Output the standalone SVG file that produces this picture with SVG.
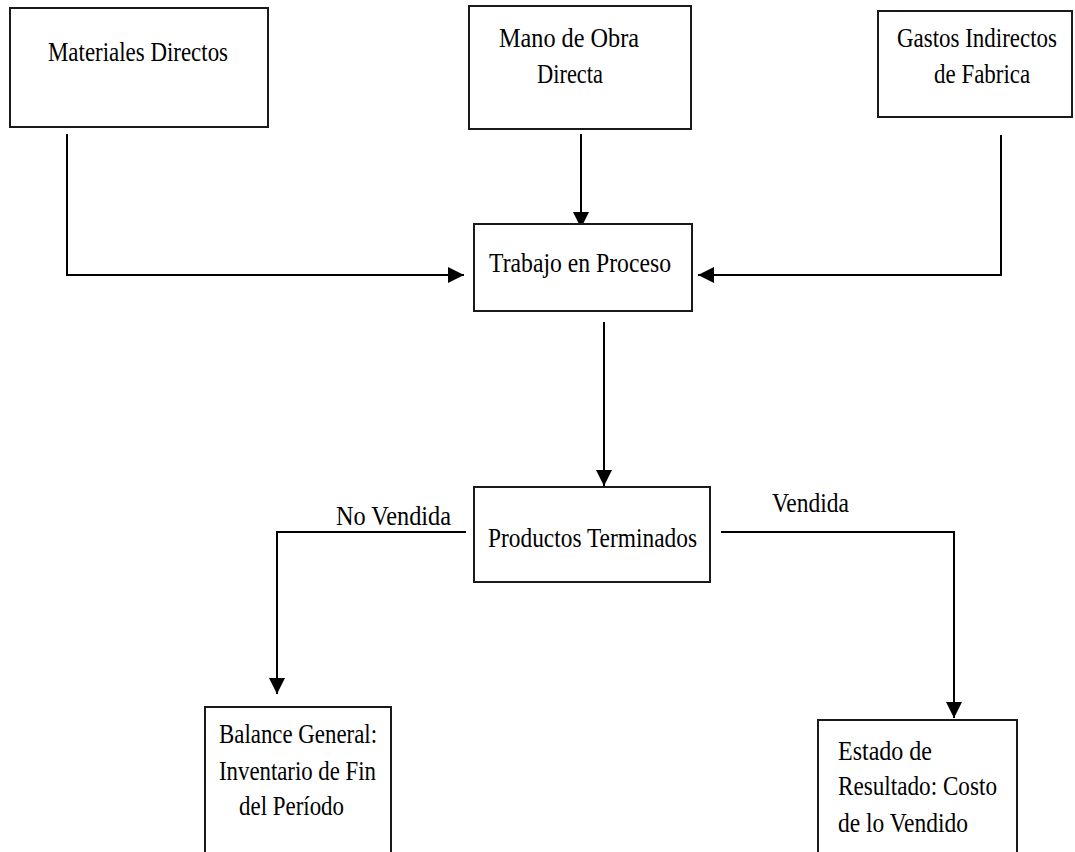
<svg xmlns="http://www.w3.org/2000/svg" width="1075" height="852" viewBox="0 0 1075 852">
<defs>
<marker id="ah" markerUnits="userSpaceOnUse" markerWidth="16" markerHeight="16" viewBox="0 0 16 16" refX="16" refY="8" orient="auto">
<path d="M0,0 L16,8 L0,16 Z" fill="#000"/>
</marker>
<style>
.box{fill:#fff;stroke:#1a1a1a;stroke-width:2}
.ln{fill:none;stroke:#000;stroke-width:2}
.t{font-family:"Liberation Serif","Times New Roman",serif;font-size:28px;fill:#000}
</style>
</defs>
<rect width="1075" height="852" fill="#fff"/>
<g id="connectors">
<path class="ln" d="M67,134 V275 H464" marker-end="url(#ah)"/>
<path class="ln" d="M581,134 V228" marker-end="url(#ah)"/>
<path class="ln" d="M1001,135 V275 H698" marker-end="url(#ah)"/>
<path class="ln" d="M604,322 V486" marker-end="url(#ah)"/>
<path class="ln" d="M466,532 H277 V694" marker-end="url(#ah)"/>
<path class="ln" d="M721,532 H954 V718" marker-end="url(#ah)"/>
<text class="t" x="336" y="525" textLength="115" lengthAdjust="spacingAndGlyphs">No Vendida</text>
<text class="t" x="772" y="512" textLength="77" lengthAdjust="spacingAndGlyphs">Vendida</text>
</g>
<g id="materiales">
<rect class="box" x="10" y="8" width="258" height="119"/>
<text class="t" x="48" y="61" textLength="180" lengthAdjust="spacingAndGlyphs">Materiales Directos</text>
</g>
<g id="mano">
<rect class="box" x="469" y="6" width="222" height="123"/>
<text class="t" x="499" y="47" textLength="140" lengthAdjust="spacingAndGlyphs">Mano de Obra</text>
<text class="t" x="537" y="83" textLength="66" lengthAdjust="spacingAndGlyphs">Directa</text>
</g>
<g id="gastos">
<rect class="box" x="878" y="11" width="194" height="106"/>
<text class="t" transform="translate(897,47) scale(0.82,1)" x="0" y="0">Gastos Indirectos</text>
<text class="t" transform="translate(934,83) scale(0.82,1)" x="0" y="0">de Fabrica</text>
</g>
<g id="trabajo">
<rect class="box" x="474" y="224" width="218" height="87"/>
<text class="t" x="489" y="272" textLength="182" lengthAdjust="spacingAndGlyphs">Trabajo en Proceso</text>
</g>
<g id="productos">
<rect class="box" x="474" y="487" width="236" height="95"/>
<text class="t" x="488" y="547" textLength="209" lengthAdjust="spacingAndGlyphs">Productos Terminados</text>
</g>
<g id="balance">
<rect class="box" x="205" y="707" width="186" height="160"/>
<text class="t" x="219" y="743" textLength="158" lengthAdjust="spacingAndGlyphs">Balance General:</text>
<text class="t" x="219" y="780" textLength="157" lengthAdjust="spacingAndGlyphs">Inventario de Fin</text>
<text class="t" x="239" y="815" textLength="105" lengthAdjust="spacingAndGlyphs">del Período</text>
</g>
<g id="estado">
<rect class="box" x="818" y="720" width="199" height="150"/>
<text class="t" x="838" y="760" textLength="94" lengthAdjust="spacingAndGlyphs">Estado de</text>
<text class="t" x="838" y="795" textLength="159" lengthAdjust="spacingAndGlyphs">Resultado: Costo</text>
<text class="t" x="838" y="832" textLength="130" lengthAdjust="spacingAndGlyphs">de lo Vendido</text>
</g>
</svg>
